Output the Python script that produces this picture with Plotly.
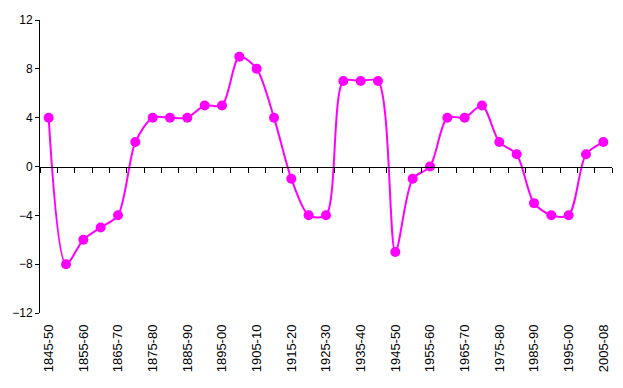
import plotly.graph_objects as go

categories = ["1845-50", "1850-55", "1855-60", "1860-65", "1865-70", "1870-75", "1875-80",
              "1880-85", "1885-90", "1890-95", "1895-00", "1900-05", "1905-10", "1910-15",
              "1915-20", "1920-25", "1925-30", "1930-35", "1935-40", "1940-45", "1945-50",
              "1950-55", "1955-60", "1960-65", "1965-70", "1970-75", "1975-80", "1980-85",
              "1985-90", "1990-95", "1995-00", "2000-05", "2005-08"]
values = [4, -8, -6, -5, -4, 2, 4, 4, 4, 5, 5, 9, 8, 4, -1, -4, -4, 7, 7, 7, -7,
          -1, 0, 4, 4, 5, 2, 1, -3, -4, -4, 1, 2]
y_ticks = [-12, -8, -4, 0, 4, 8, 12]

n = len(categories)
idx = list(range(n))
label_idx = idx[::2]
label_text = [categories[i] for i in label_idx]
boundaries = [i - 0.5 for i in range(n + 1)]

font = dict(family="Liberation Sans, Arial, sans-serif", size=12, color="black")
xfont = dict(family="Liberation Sans, Arial, sans-serif", size=13, color="black")

fig = go.Figure()
fig.add_trace(go.Scatter(
    x=idx, y=values, mode="lines+markers",
    line=dict(color="#FF00FF", width=2, shape="spline", smoothing=0.8),
    marker=dict(color="#FF00FF", size=10, symbol="circle"),
    showlegend=False, hoverinfo="skip",
))
# invisible trace to carry the zero-line category axis
fig.add_trace(go.Scatter(x=[idx[0], idx[-1]], y=[0, 0], xaxis="x2", mode="markers",
                         marker=dict(opacity=0), showlegend=False, hoverinfo="skip"))

fig.update_layout(
    width=623, height=388,
    margin=dict(l=40, r=11, t=20, b=75),
    paper_bgcolor="white", plot_bgcolor="white",
    font=font,
    xaxis=dict(range=[-0.5, n - 0.5], showgrid=False, zeroline=False, showline=False,
               tickmode="array", tickvals=label_idx, ticktext=label_text,
               tickangle=-90, ticks="", tickfont=xfont, ticklabelstandoff=8),
    xaxis2=dict(range=[-0.5, n - 0.5], overlaying="x", anchor="free", position=0.5,
                showgrid=False, zeroline=False, showline=True, linecolor="black", linewidth=1,
                tickmode="array", tickvals=boundaries, ticks="outside", ticklen=5,
                tickcolor="black", tickwidth=1, showticklabels=False),
    yaxis=dict(range=[-12, 12], showgrid=False, zeroline=False, showline=True,
               linecolor="black", linewidth=1, tickmode="array", tickvals=y_ticks,
               ticks="outside", ticklen=4, tickcolor="black", tickfont=font),
)

fig.write_html("out.html")
